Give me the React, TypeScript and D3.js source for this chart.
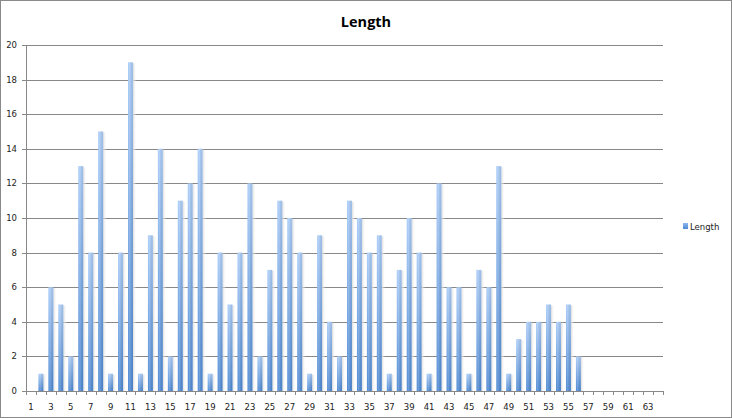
import React from "react";
import * as d3 from "d3";

const categories: number[] = Array.from({ length: 64 }, (_, i) => i + 1);
const lengthValues: (number | null)[] = [
  null, 1, 6, 5, 2, 13, 8, 15, 1, 8,
  19, 1, 9, 14, 2, 11, 12, 14, 1, 8,
  5, 8, 12, 2, 7, 11, 10, 8, 1, 9,
  4, 2, 11, 10, 8, 9, 1, 7, 10, 8,
  1, 12, 6, 6, 1, 7, 6, 13, 1, 3,
  4, 4, 5, 4, 5, 2,
];
const yTicks: number[] = [0, 2, 4, 6, 8, 10, 12, 14, 16, 18, 20];
const seriesName = "Length";
const title = "Length";

const W = 732;
const H = 418;
const plot = { left: 26, right: 663, top: 45, bottom: 391 };

export default function App() {
  const x = d3
    .scaleBand<number>()
    .domain(categories)
    .range([plot.left, plot.right])
    .paddingInner(0.5)
    .paddingOuter(0.25);
  const step = x.step();
  const y = d3.scaleLinear().domain([0, 20]).range([plot.bottom, plot.top]);
  const bw = x.bandwidth();
  const font = "'DejaVu Sans', sans-serif";

  return (
    <div style={{ position: "fixed", left: 0, top: 0 }}>
      <svg width={W} height={H} style={{ display: "block" }}>
        <defs>
          <linearGradient id="barGrad" x1="0" y1="0" x2="0" y2="1">
            <stop offset="0" stopColor="#a9cbf7" />
            <stop offset="1" stopColor="#4c88d3" />
          </linearGradient>
          <linearGradient id="barSheen" x1="0" y1="0" x2="1" y2="0">
            <stop offset="0" stopColor="#ffffff" stopOpacity="0.0" />
            <stop offset="0.35" stopColor="#ffffff" stopOpacity="0.18" />
            <stop offset="1" stopColor="#000000" stopOpacity="0.05" />
          </linearGradient>
          <linearGradient id="shadowGrad" x1="0" y1="0" x2="1" y2="0">
            <stop offset="0" stopColor="#d6d6d6" stopOpacity="0.9" />
            <stop offset="1" stopColor="#ffffff" stopOpacity="0" />
          </linearGradient>
          <linearGradient id="legGrad" x1="0" y1="0" x2="0" y2="1">
            <stop offset="0" stopColor="#8fb8f0" />
            <stop offset="1" stopColor="#4c88d3" />
          </linearGradient>
        </defs>
        <rect x={0.5} y={0.5} width={W - 1} height={H - 1} fill="#fff" stroke="#8a8a8a" />
        <text
          x={366}
          y={27}
          textAnchor="middle"
          fontFamily="'Open Sans', sans-serif"
          fontWeight="bold"
          fontSize={14.5}
          fill="#000"
        >
          {title}
        </text>
        {yTicks.map((t) => (
          <g key={t}>
            {t > 0 && (
              <line x1={plot.left} x2={plot.right} y1={Math.round(y(t)) + 0.5} y2={Math.round(y(t)) + 0.5} stroke="#888" />
            )}
            <line x1={plot.left - 4} x2={plot.left} y1={Math.round(y(t)) + 0.5} y2={Math.round(y(t)) + 0.5} stroke="#888" />
            <text x={17} y={y(t) + 3} textAnchor="end" fontFamily={font} fontSize={8.5} fill="#222">
              {t}
            </text>
          </g>
        ))}
        {lengthValues.map((v, i) => {
          if (v == null || v === 0) return null;
          const c = categories[i];
          const bx = (x(c) as number);
          const top = y(v);
          const h = plot.bottom - top;
          return (
            <g key={c}>
              <rect x={bx + bw} y={top + 1} width={3.5} height={h - 1} fill="url(#shadowGrad)" />
              <rect x={bx} y={top} width={bw} height={h} fill="url(#barGrad)" />
              <rect x={bx} y={top} width={bw} height={h} fill="url(#barSheen)" />
            </g>
          );
        })}
        <line x1={Math.round(plot.left) + 0.5} x2={Math.round(plot.left) + 0.5} y1={plot.top} y2={plot.bottom} stroke="#888" />
        <line x1={plot.left} x2={plot.right} y1={plot.bottom + 0.5} y2={plot.bottom + 0.5} stroke="#888" />
        {d3.range(categories.length + 1).map((k) => {
          const tx = Math.round(plot.left + k * step) + 0.5;
          return <line key={k} x1={tx} x2={tx} y1={plot.bottom} y2={plot.bottom + 4} stroke="#888" />;
        })}
        {categories
          .filter((c) => c % 2 === 1)
          .map((c) => (
            <text
              key={c}
              x={(x(c) as number) + bw / 2}
              y={410}
              textAnchor="middle"
              fontFamily={font}
              fontSize={8.5}
              fill="#222"
            >
              {c}
            </text>
          ))}
        <rect x={683} y={223} width={5} height={6} fill="url(#legGrad)" />
        <text x={690} y={230} fontFamily={font} fontSize={8.5} fill="#222">
          {seriesName}
        </text>
      </svg>
    </div>
  );
}
